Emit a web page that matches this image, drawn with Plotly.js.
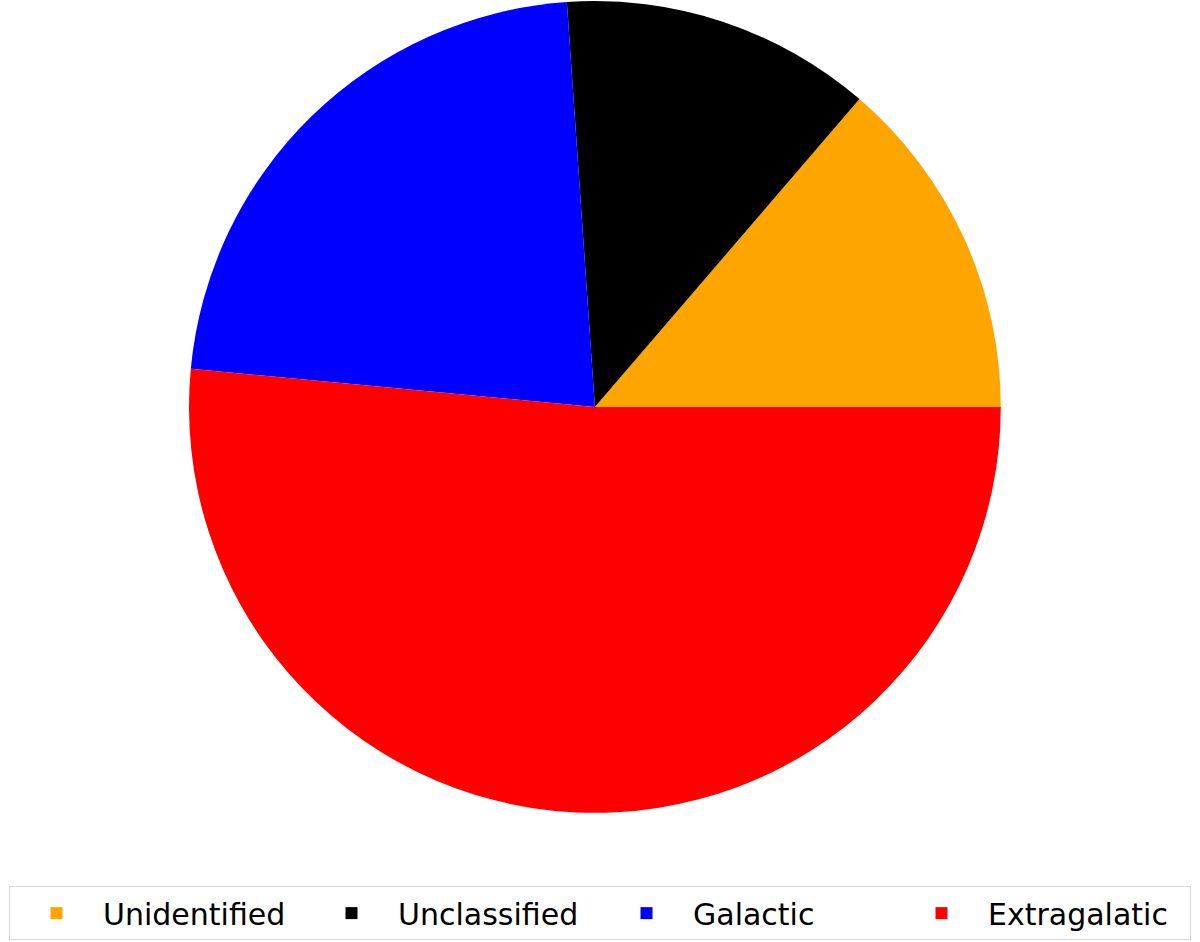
<!DOCTYPE html>
<html>
<head>
<meta charset="utf-8">
<script src="https://cdn.plot.ly/plotly-3.0.1.min.js"></script>
<style>
  html, body { margin: 0; padding: 0; background: #fff; }
  #chart { width: 1200px; height: 942px; }
</style>
</head>
<body>
<div id="chart"></div>
<script>
// share of sources per class (percent)
const classes = ['Unidentified', 'Unclassified', 'Galactic', 'Extragalatic'];
const shares = [13.7, 12.4, 22.4, 51.5];
const sliceColors = ['orange', 'black', 'blue', 'red'];

// first slice should start at 3 o'clock and run counterclockwise
const total = shares.reduce((a, b) => a + b, 0);
const startRotation = 90 - 360 * shares[0] / total;

const trace = {
    type: 'pie',
    labels: classes,
    values: shares,
    marker: { colors: sliceColors, line: { width: 0 } },
    sort: false,
    direction: 'counterclockwise',
    rotation: startRotation,
    textinfo: 'none',
    hoverinfo: 'label+percent',
    domain: { x: [0.1575, 0.834], y: [0.137, 0.999] }
};

const layout = {
    width: 1200,
    height: 942,
    margin: { l: 0, r: 0, t: 0, b: 0 },
    paper_bgcolor: 'white',
    font: { family: 'DejaVu Sans', size: 30, color: 'black' },
    showlegend: true,
    legend: {
        orientation: 'h',
        x: 0.5, xanchor: 'center',
        y: 0.002, yanchor: 'bottom',
        bordercolor: '#d9d9d9',
        borderwidth: 1,
        itemwidth: 83,
        entrywidth: 197,
        entrywidthmode: 'pixels',
        font: { size: 30 }
    }
};

Plotly.newPlot('chart', [trace], layout, { displayModeBar: false });
</script>
</body>
</html>
